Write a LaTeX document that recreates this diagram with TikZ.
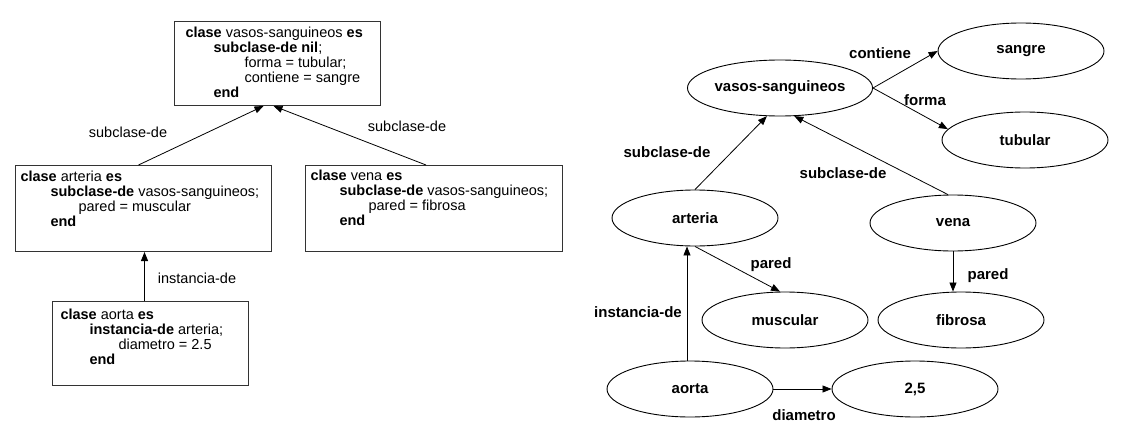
\documentclass[tikz,border=0pt]{standalone}
\usepackage{fontspec}
\setmainfont{Liberation Sans}
\usetikzlibrary{shapes.geometric,arrows.meta,calc}
\newcommand\cbody[3]{\begin{minipage}[t][#2][t]{#1}\raggedright #3\end{minipage}}
\begin{document}
\begin{tikzpicture}[x=1pt,y=-1pt,
  codebox/.style={draw=black!80, line width=1pt, anchor=north west, inner sep=0pt,
    font=\fontsize{14.5}{15}\selectfont},
  ell/.style={ellipse, draw, line width=0.9pt, minimum width=166pt, minimum height=56pt,
    inner sep=0pt, font=\bfseries\fontsize{15}{18}\selectfont},
  arr/.style={-{Triangle[length=9pt,width=7pt]}, line width=0.8pt},
  lbl/.style={font=\fontsize{14.5}{17}\selectfont, inner sep=0pt},
  blbl/.style={font=\bfseries\fontsize{15}{18}\selectfont, inner sep=0pt}]
\fill[white] (0,0) rectangle (1129,436);
\useasboundingbox (0,0) rectangle (1129,436);

% ---------- left: frame boxes ----------
\node[codebox, inner xsep=11pt, inner ysep=5pt] (vbox) at (174,21)
 {\cbody{184pt}{74pt}{\textbf{clase} vasos-sanguineos \textbf{es}\\
  \hspace*{28pt}\textbf{subclase-de nil};\\
  \hspace*{59pt}forma = tubular;\\
  \hspace*{59pt}contiene = sangre\\
  \hspace*{28pt}\textbf{end}}};

\node[codebox, inner xsep=5pt, inner ysep=5pt] (abox) at (15,165)
 {\cbody{246pt}{76pt}{\textbf{clase} arteria \textbf{es}\\
  \hspace*{30pt}\textbf{subclase-de} vasos-sanguineos;\\
  \hspace*{58pt}pared = muscular\\
  \hspace*{30pt}\textbf{end}}};

\node[codebox, inner xsep=5pt, inner ysep=4pt] (vnbox) at (305,165)
 {\cbody{247pt}{78pt}{\textbf{clase} vena \textbf{es}\\
  \hspace*{29pt}\textbf{subclase-de} vasos-sanguineos;\\
  \hspace*{58pt}pared = fibrosa\\
  \hspace*{29pt}\textbf{end}}};

\node[codebox, inner xsep=8pt, inner ysep=7pt] (aobox) at (52,301)
 {\cbody{180pt}{70pt}{\textbf{clase} aorta \textbf{es}\\
  \hspace*{29pt}\textbf{instancia-de} arteria;\\
  \hspace*{58pt}diametro = 2.5\\
  \hspace*{29pt}\textbf{end}}};

\draw[arr] ([xshift=-5pt]abox.north) -- ([xshift=-14pt]vbox.south);
\draw[arr] ([xshift=-8pt]vnbox.north) -- ([xshift=-4pt]vbox.south);
\draw[arr] ([xshift=-6pt]aobox.north) -- ([xshift=-6pt]aobox.north |- abox.south);

\node[lbl] (l1) at (128,132) {subclase-de};
\node[lbl] (l2) at (407,126) {subclase-de};
\node[lbl] (l3) at (197,278) {instancia-de};

% ---------- right: semantic net ----------
\node[ell] (vs) at (780,88) {vasos-sanguineos};
\node[ell] (sangre) at (1021,51) {sangre};
\node[ell] (tubular) at (1025,140) {tubular};
\node[ell] (arteria) at (695,218) {arteria};
\node[ell] (vena) at (953,223) {vena};
\node[ell] (muscular) at (785,320) {muscular};
\node[ell] (fibrosa) at (961,320) {fibrosa};
\node[ell] (aorta) at (690,389) {aorta};
\node[ell] (val) at (915,389) {2,5};

\draw[arr] (vs.east) -- (sangre.west);
\draw[arr] (vs.east) -- (tubular.172);
\draw[arr] (arteria.north) -- (vs.245);
\draw[arr] (vena.100) -- (vs.297);
\draw[arr] (arteria.south) -- (muscular.100);
\draw[arr] (vena.south) -- (vena.south |- fibrosa.north);
\draw[arr] ([xshift=-3pt]aorta.north) -- ([xshift=-3pt]aorta.north |- arteria.south);
\draw[arr] (aorta.east) -- (val.west);

\node[blbl] (r1) at (880,53) {contiene};
\node[blbl] (r2) at (925,100) {forma};
\node[blbl] (r3) at (667,152) {subclase-de};
\node[blbl] (r4) at (843,173) {subclase-de};
\node[blbl] (r5) at (771,265) {pared};
\node[blbl] (r6) at (988,276) {pared};
\node[blbl] (r7) at (638,312) {instancia-de};
\node[blbl] (r8) at (804,415) {diametro};
\end{tikzpicture}
\end{document}
